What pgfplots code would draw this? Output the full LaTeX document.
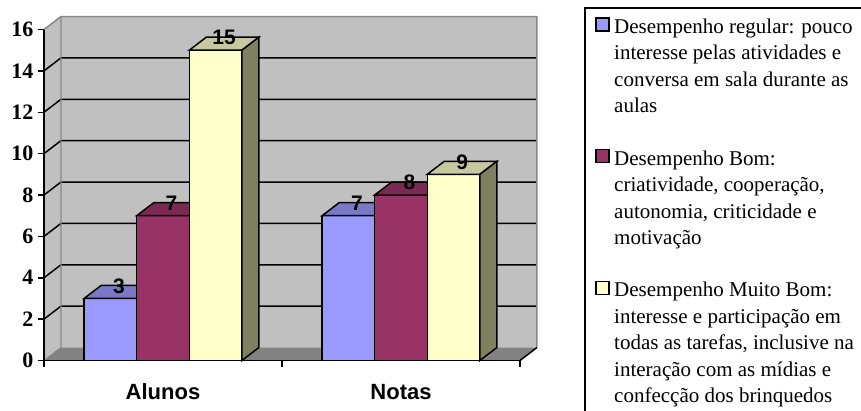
\documentclass[border=0pt]{standalone}
\usepackage{fontspec}
\setmainfont{Liberation Serif}
\newfontfamily\sansb{Liberation Sans}
\usepackage{pgfplots}
\pgfplotsset{compat=1.18}
\pgfplotsset{sqlegend/.style={legend image code/.code={\draw[##1,/tikz/.cd,line width=1.5pt] (0pt,-12.3pt) rectangle (13pt,0.7pt);}}}
\definecolor{cBlue}{HTML}{9999FF}
\definecolor{cBlueT}{HTML}{7979C6}
\definecolor{cPur}{HTML}{993366}
\definecolor{cPurT}{HTML}{7A2952}
\definecolor{cYel}{HTML}{FFFFCC}
\definecolor{cYelT}{HTML}{C8C8A0}
\definecolor{cYelS}{HTML}{808060}
\definecolor{cWall}{HTML}{C0C0C0}
\definecolor{cFloor}{HTML}{828282}
\definecolor{cEdge}{HTML}{888888}
\begin{document}
\begin{tikzpicture}
\useasboundingbox (0pt,0pt) rectangle (861pt,410pt);
\begin{axis}[
  at={(44pt,49.5pt)}, anchor=south west,
  scale only axis, width=476pt, height=331pt,
  xmin=0, xmax=2, ymin=0, ymax=16,
  clip=false, axis on top,
  axis lines*=left,
  axis line style={black, line width=1.5pt},
  ytick={0,2,...,16},
  xtick={0,1,2},
  xticklabels={},
  extra x ticks={0.5,1.5},
  extra x tick labels={Alunos,Notas},
  extra x tick style={major tick length=0pt},
  tick align=outside,
  major tick length=6pt,
  tick style={black, line width=1.5pt},
  /pgf/number format/assume math mode=true,
  yticklabel style={font=\fontsize{22}{22}\selectfont\bfseries, anchor=east, xshift=-1pt},
  xticklabel style={font=\sansb\fontsize{22}{22}\selectfont\bfseries, anchor=base, yshift=-38.5pt},
  legend style={at={(1.1576,1.038)}, anchor=north west, draw=none, fill=none,
    inner sep=0pt, row sep=34.5pt, column sep=4.5pt,
    font=\fontsize{21}{26.5}\selectfont,
    nodes={inner sep=0pt, align=left},
    cells={anchor=north west}},
]
% walls and floor
\addplot[fill=cWall, draw=none, forget plot] coordinates {(0,0)(0,16)(0.0714,16.628)(0.0714,0.628)} --cycle;
\addplot[fill=cWall, draw=none, forget plot] coordinates {(0.0714,0.628)(2.0714,0.628)(2.0714,16.628)(0.0714,16.628)} --cycle;
\addplot[fill=cFloor, draw=none, forget plot] coordinates {(0,0)(2,0)(2.0714,0.628)(0.0714,0.628)} --cycle;
% gridlines
\addplot[black, line width=1.5pt, unbounded coords=jump, forget plot] coordinates {
 (0,2)(0.0714,2.628)(2.0714,2.628) (0,nan)
 (0,4)(0.0714,4.628)(2.0714,4.628) (0,nan)
 (0,6)(0.0714,6.628)(2.0714,6.628) (0,nan)
 (0,8)(0.0714,8.628)(2.0714,8.628) (0,nan)
 (0,10)(0.0714,10.628)(2.0714,10.628) (0,nan)
 (0,12)(0.0714,12.628)(2.0714,12.628) (0,nan)
 (0,14)(0.0714,14.628)(2.0714,14.628)
};
% wall edges
\addplot[cEdge, line width=1.5pt, forget plot] coordinates {(0,16)(0.0714,16.628)(2.0714,16.628)(2.0714,0.628)};
\addplot[cEdge, line width=1.2pt, forget plot] coordinates {(0,0)(0.0714,0.628)(0.0714,16.628)};
\addplot[black, line width=1.5pt, forget plot] coordinates {(2,0)(2.0714,0.628)};
% blue series
\addplot[ybar, bar width=0.221, bar shift=-0.221, fill=cBlue, draw=black, line width=1.5pt, sqlegend]
  coordinates {(0.5,3)(1.5,7)};
\addlegendentry{Desempenho regular: pouco\\interesse pelas atividades e\\conversa em sala durante as\\aulas}
\addplot[fill=cBlueT, draw=black, line width=1.5pt, forget plot] coordinates {(0.1685,3)(0.3895,3)(0.4609,3.628)(0.2399,3.628)} --cycle;
\addplot[fill=cBlueT, draw=black, line width=1.5pt, forget plot] coordinates {(1.1685,7)(1.3895,7)(1.4609,7.628)(1.2399,7.628)} --cycle;
% purple series
\addplot[ybar, bar width=0.221, bar shift=0, fill=cPur, draw=black, line width=1.5pt, sqlegend]
  coordinates {(0.5,7)(1.5,8)};
\addlegendentry{Desempenho Bom:\\criatividade, cooperação,\\autonomia, criticidade e\\motivação}
\addplot[fill=cPurT, draw=black, line width=1.5pt, forget plot] coordinates {(0.3895,7)(0.6105,7)(0.6819,7.628)(0.4609,7.628)} --cycle;
\addplot[fill=cPurT, draw=black, line width=1.5pt, forget plot] coordinates {(1.3895,8)(1.6105,8)(1.6819,8.628)(1.4609,8.628)} --cycle;
% yellow series
\addplot[ybar, bar width=0.221, bar shift=0.221, fill=cYel, draw=black, line width=1.5pt, sqlegend]
  coordinates {(0.5,15)(1.5,9)};
\addlegendentry{Desempenho Muito Bom:\\interesse e participação em\\todas as tarefas, inclusive na\\interação com as mídias e\\confecção dos brinquedos}
\addplot[fill=cYelT, draw=black, line width=1.5pt, forget plot] coordinates {(0.6105,15)(0.8315,15)(0.9029,15.628)(0.6819,15.628)} --cycle;
\addplot[fill=cYelT, draw=black, line width=1.5pt, forget plot] coordinates {(1.6105,9)(1.8315,9)(1.9029,9.628)(1.6819,9.628)} --cycle;
\addplot[fill=cYelS, draw=black, line width=1.5pt, forget plot] coordinates {(0.8315,0)(0.8315,15)(0.9029,15.628)(0.9029,0.628)} --cycle;
\addplot[fill=cYelS, draw=black, line width=1.5pt, forget plot] coordinates {(1.8315,0)(1.8315,9)(1.9029,9.628)(1.9029,0.628)} --cycle;
% value labels
\addplot[only marks, mark=*, mark size=0pt, mark options={draw=none, fill=none}, forget plot,
  nodes near coords,
  nodes near coords style={font=\sansb\fontsize{21}{21}\selectfont\bfseries, anchor=center, xshift=8.5pt, yshift=12.5pt, text=black}]
  coordinates {(0.279,3)(0.5,7)(0.721,15)(1.279,7)(1.5,8)(1.721,9)};
\end{axis}
\draw[black, line width=1.5pt] (585pt,402pt) rectangle (900pt,-20pt);
\end{tikzpicture}
\end{document}
